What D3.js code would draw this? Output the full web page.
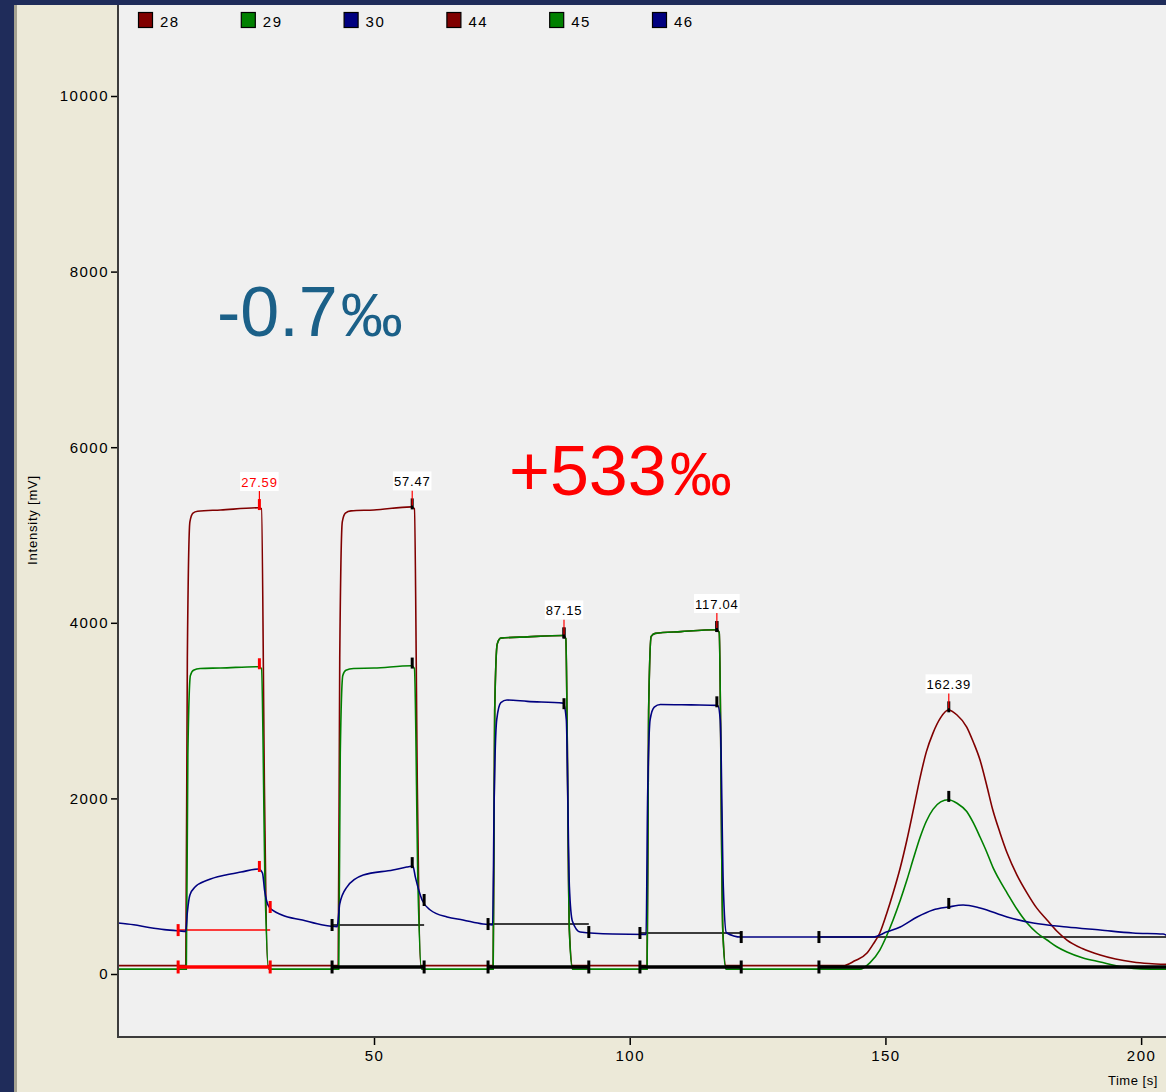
<!DOCTYPE html>
<html>
<head>
<meta charset="utf-8">
<script src="https://cdn.jsdelivr.net/npm/d3@7"></script>
<style>
  html, body { margin: 0; padding: 0; background: #1f2c5a; }
  svg { display: block; }
  .tick text { font-family: "Liberation Sans", Arial, sans-serif; font-size: 15px; letter-spacing: 1.5px; fill: #000; }
</style>
</head>
<body>
<div id="chart"></div>
<script>
// legend entries (mass channels)
var legendLabels = ["28", "29", "30", "44", "45", "46"];

// axis ticks
var yTicks = [0, 2000, 4000, 6000, 8000, 10000];
var xTicks = [50, 100, 150, 200];

// traces: [time s, intensity mV]
// red = mass 28 / 44 (under the green one on the two middle pulses)
var traceRed = [
  [0, 95], [13.2, 95], [13.5, 3600], [14.0, 5150], [14.6, 5250], [15.5, 5270], [20, 5285], [27.4, 5310],
  [28.0, 5300], [28.6, 2000], [29.2, 95],
  [43.0, 95], [43.3, 3600], [43.8, 5150], [44.4, 5250], [45.5, 5275], [50, 5285], [57.3, 5320],
  [57.9, 5300], [58.5, 2000], [59.1, 95],
  [73.3, 95], [73.6, 3000], [74.1, 3760], [74.8, 3825], [80, 3840], [87.0, 3855], [87.5, 3820],
  [88.2, 500], [88.8, 95],
  [103.4, 95], [103.7, 3000], [104.2, 3845], [105, 3880], [110, 3900], [117.0, 3920], [117.5, 3890],
  [118.2, 500], [118.8, 95],
  [141.7, 95], [144.0, 150], [146.4, 239], [147.6, 340], [148.9, 467], [150.2, 680], [151.5, 922],
  [152.9, 1210], [154.2, 1526], [155.5, 1880], [156.8, 2243], [158.0, 2530], [159.3, 2744],
  [160.8, 2920], [162.3, 3006], [164.0, 2950], [165.9, 2813], [167.2, 2640], [168.5, 2437],
  [169.8, 2150], [171.0, 1867], [172.4, 1610], [173.8, 1378], [175.7, 1130], [177.7, 922],
  [179.6, 750], [181.6, 615], [183.5, 490], [185.5, 387], [188.5, 290], [192.0, 216],
  [195.0, 170], [198.4, 137], [201.5, 120], [205, 110]
];
// green = mass 29 / 45
var traceGreen = [
  [0, 55], [13.3, 55], [13.6, 2500], [14.1, 3400], [14.7, 3460], [16, 3480], [20, 3485], [27.4, 3500],
  [28.0, 3480], [28.7, 1000], [29.4, 55],
  [43.1, 55], [43.4, 2500], [43.9, 3400], [44.5, 3460], [46, 3480], [50, 3485], [57.3, 3510],
  [57.9, 3480], [58.6, 1000], [59.3, 55],
  [73.3, 55], [73.6, 3000], [74.1, 3760], [74.8, 3825], [80, 3840], [87.0, 3855], [87.5, 3820],
  [88.2, 500], [88.8, 55],
  [103.4, 55], [103.7, 3000], [104.2, 3845], [105, 3880], [110, 3900], [117.0, 3920], [117.5, 3890],
  [118.2, 500], [118.8, 55],
  [145.0, 55], [147.0, 130], [148.9, 273], [150.2, 430], [151.5, 615], [152.9, 840], [154.2, 1070],
  [155.5, 1320], [156.8, 1560], [158.0, 1740], [159.3, 1875], [160.8, 1960], [162.3, 1985],
  [164.0, 1945], [165.9, 1850], [167.2, 1720], [168.5, 1560], [169.8, 1390], [171.0, 1218],
  [172.4, 1060], [173.8, 922], [175.7, 740], [177.7, 581], [179.6, 470], [181.6, 387],
  [183.5, 310], [185.5, 250], [188.5, 185], [192.0, 137], [196.5, 80], [200, 58], [205, 55]
];
// blue = mass 30 / 46
var traceBlue = [
  [0, 580], [3, 560], [6, 530], [9, 505], [12, 490], [13.2, 485], [13.5, 700], [14.0, 900],
  [15.0, 990], [17.5, 1070], [21, 1127], [24, 1161], [27.4, 1196], [28.2, 1150], [28.6, 956],
  [29.5, 763], [32, 672], [36, 615], [40, 558], [42.8, 540],
  [43.3, 800], [44.7, 990], [47.9, 1127], [53.7, 1184], [56.4, 1218], [57.6, 1230], [58.1, 1100],
  [59.4, 843], [61.0, 729], [64.3, 649], [67.4, 615], [71.3, 569], [73.2, 560],
  [73.5, 2000], [74.0, 2900], [74.8, 3090], [76, 3120], [80, 3105], [87.0, 3085], [87.6, 2900],
  [88.2, 1000], [88.8, 600], [90.3, 478], [96.7, 455], [103.2, 450],
  [103.5, 2000], [104.0, 2900], [104.8, 3040], [106, 3070], [112, 3065], [117.2, 3060], [117.7, 2900],
  [118.3, 1000], [118.9, 470], [121.8, 421], [147.6, 421],
  [150.3, 480], [152.9, 535], [156.2, 649], [159.3, 729], [162.3, 763], [165.2, 786], [168.5, 752],
  [173.8, 649], [178.9, 581], [185.5, 535], [192.0, 501], [198.4, 467], [204.3, 455], [205, 440]
];

// detected peaks
var peakTimes = [27.59, 57.47, 87.15, 117.04, 162.39];
var peakLabels = ["27.59", "57.47", "87.15", "117.04", "162.39"];
var peakStart = [11.7, 41.8, 72.3, 102.0, 137.0];
var peakEnd = [29.7, 59.8, 92.0, 121.8, 215];
var bgStart = [500, 558, 569, 467, 421];
var bgEnd = [763, 843, 478, 421, 421];
var baseLevel = 80;

// big annotations
var deltaLabels = [
  {text: "-0.7", unit: "‰", t: 19.3, v: 7270, color: "#1b6088"},
  {text: "+533", unit: "‰", t: 76.4, v: 5450, color: "#ff0000"}
];

var W = 1166, H = 1092;
var pLeft = 118, pTop = 5, pRight = 1166, pBottom = 1037;

var svg = d3.select("#chart").append("svg")
  .attr("width", W).attr("height", H);

// window chrome
svg.append("rect").attr("width", W).attr("height", H).attr("fill", "#1f2c5a");
svg.append("rect").attr("x", 14).attr("y", pTop).attr("width", W - 14).attr("height", H - pTop).attr("fill", "#a5a291");
svg.append("rect").attr("x", 17).attr("y", pTop).attr("width", W - 17).attr("height", H - pTop).attr("fill", "#ece9d8");
svg.append("rect").attr("x", pLeft).attr("y", pTop).attr("width", pRight - pLeft).attr("height", pBottom - pTop).attr("fill", "#f0f0f0");

var x = d3.scaleLinear().domain([0, 205]).range([118.3, 1166.7]);
var y = d3.scaleLinear().domain([0, 10000]).range([974, 96]);

svg.append("clipPath").attr("id", "plotclip")
  .append("rect").attr("x", pLeft).attr("y", pTop).attr("width", pRight - pLeft).attr("height", pBottom - pTop);

var plot = svg.append("g").attr("clip-path", "url(#plotclip)");

var line = d3.line()
  .curve(d3.curveMonotoneX)
  .x(function(d) { return x(d[0]); })
  .y(function(d) { return y(d[1]); });

var traces = [
  {data: traceRed, color: "#800000"},
  {data: traceGreen, color: "#008000"},
  {data: traceBlue, color: "#000080"}
];

// background lines under the traces
peakTimes.forEach(function(t, i) {
  var c = i == 0 ? "#ff0000" : "#000";
  plot.append("line")
    .attr("x1", x(peakStart[i])).attr("x2", x(peakEnd[i]))
    .attr("y1", y(bgStart[i])).attr("y2", y(bgStart[i]))
    .attr("stroke", c).attr("stroke-width", 1.5);
});

traces.forEach(function(tr) {
  plot.append("path")
    .datum(tr.data)
    .attr("d", line)
    .attr("fill", "none")
    .attr("stroke", tr.color)
    .attr("stroke-width", 1.6);
});

var bis = d3.bisector(function(d) { return d[0]; }).left;
function valueAt(data, t) {
  var i = bis(data, t);
  if (i <= 0) return data[0][1];
  if (i >= data.length) return data[data.length - 1][1];
  var a = data[i - 1], b = data[i];
  return a[1] + (b[1] - a[1]) * (t - a[0]) / (b[0] - a[0]);
}

function vtick(g, px, py, h, c) {
  g.append("line")
    .attr("x1", px).attr("x2", px)
    .attr("y1", py - h / 2).attr("y2", py + h / 2)
    .attr("stroke", c).attr("stroke-width", 3);
}

peakTimes.forEach(function(t, i) {
  var c = i == 0 ? "#ff0000" : "#000";
  // bottom integration bar
  plot.append("line")
    .attr("x1", x(peakStart[i])).attr("x2", x(peakEnd[i]))
    .attr("y1", y(baseLevel)).attr("y2", y(baseLevel))
    .attr("stroke", c).attr("stroke-width", 3.5);
  vtick(plot, x(peakStart[i]), y(baseLevel), 13, c);
  vtick(plot, x(peakEnd[i]), y(baseLevel), 13, c);
  vtick(plot, x(peakStart[i]), y(bgStart[i]), 12, c);
  vtick(plot, x(peakEnd[i]), y(bgEnd[i]), 12, c);

  // marks on the traces at the peak time
  var topV = 0;
  traces.forEach(function(tr) {
    var v = valueAt(tr.data, t);
    topV = Math.max(topV, v);
    plot.append("line")
      .attr("x1", x(t)).attr("x2", x(t))
      .attr("y1", y(v) - 9).attr("y2", y(v) + 2)
      .attr("stroke", c).attr("stroke-width", 3);
  });

  // label with connector
  var py = y(topV);
  plot.append("line")
    .attr("x1", x(t)).attr("x2", x(t))
    .attr("y1", py - 17).attr("y2", py - 2)
    .attr("stroke", "#ff0000").attr("stroke-width", 1.2);
  var box = plot.append("rect").attr("fill", "#fff");
  var lbl = plot.append("text")
    .attr("x", x(t)).attr("y", py - 21)
    .attr("text-anchor", "middle")
    .style("font-family", "'Liberation Sans', Arial, sans-serif")
    .style("font-size", "13px")
    .style("letter-spacing", "0.8px")
    .attr("fill", c)
    .text(peakLabels[i]);
  var bb = lbl.node().getBBox();
  box.attr("x", bb.x - 1).attr("y", py - 36)
    .attr("width", bb.width + 2).attr("height", 19);
});

// legend
var legend = svg.append("g");
legendLabels.forEach(function(lab, i) {
  var lx = 138 + i * 102.8;
  var col = ["#800000", "#008000", "#000080"][i % 3];
  legend.append("rect")
    .attr("x", lx + 0.5).attr("y", 12.5).attr("width", 14).attr("height", 15)
    .attr("fill", col).attr("stroke", "#000").attr("stroke-width", 1.2);
  legend.append("text")
    .attr("x", lx + 22).attr("y", 27)
    .style("font-family", "'Liberation Sans', Arial, sans-serif")
    .style("font-size", "15px")
    .style("letter-spacing", "1.5px")
    .text(lab);
});

// axes
var yAxis = svg.append("g")
  .attr("transform", "translate(" + pLeft + ",0)")
  .call(d3.axisLeft(y).tickValues(yTicks).tickSize(7).tickPadding(2).tickFormat(d3.format("d")));
yAxis.select(".domain").remove();
yAxis.selectAll(".tick line").attr("stroke", "#000").attr("stroke-width", 1.5);

var xAxis = svg.append("g")
  .attr("transform", "translate(0," + pBottom + ")")
  .call(d3.axisBottom(x).tickValues(xTicks).tickSize(8).tickPadding(5));
xAxis.select(".domain").remove();
xAxis.selectAll(".tick line").attr("stroke", "#000").attr("stroke-width", 1.5);

// frame
svg.append("line").attr("x1", pLeft).attr("x2", pLeft).attr("y1", pTop).attr("y2", pBottom + 1)
  .attr("stroke", "#3c3c3c").attr("stroke-width", 2);
svg.append("line").attr("x1", pLeft - 1).attr("x2", pRight).attr("y1", pBottom).attr("y2", pBottom)
  .attr("stroke", "#3c3c3c").attr("stroke-width", 2);

// axis titles
svg.append("text")
  .attr("transform", "translate(37,520) rotate(-90)")
  .attr("text-anchor", "middle")
  .style("font-family", "'Liberation Sans', Arial, sans-serif")
  .style("font-size", "13px")
  .style("letter-spacing", "0.8px")
  .text("Intensity [mV]");
svg.append("text")
  .attr("x", 1108).attr("y", 1085)
  .style("font-family", "'Liberation Sans', Arial, sans-serif")
  .style("font-size", "13px")
  .style("letter-spacing", "0.5px")
  .text("Time [s]");

// delta annotations
deltaLabels.forEach(function(d) {
  var t = svg.append("text")
    .attr("x", x(d.t)).attr("y", y(d.v))
    .style("font-family", "'Liberation Sans', Arial, sans-serif")
    .attr("fill", d.color);
  t.append("tspan").style("font-size", "70px").text(d.text);
  t.append("tspan").attr("dx", 3).style("font-size", "62px").text(d.unit);
});
</script>
</body>
</html>
